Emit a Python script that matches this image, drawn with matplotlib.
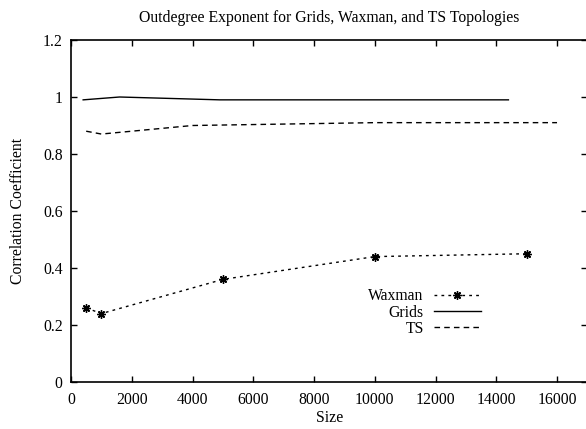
import matplotlib
matplotlib.use("Agg")
import matplotlib.pyplot as plt
from matplotlib.ticker import FuncFormatter, MultipleLocator

plt.rcParams['font.family'] = ['Liberation Serif', 'DejaVu Serif']

title = "Outdegree Exponent for Grids, Waxman, and TS Topologies"
xlabel = "Size"
ylabel = "Correlation Coefficient"

waxman_x = [500, 1000, 5000, 10000, 15000]
waxman_y = [0.26, 0.24, 0.36, 0.44, 0.45]

grids_x = [400, 1600, 4900, 14400]
grids_y = [0.99, 1.00, 0.99, 0.99]

ts_x = [500, 1000, 4000, 10000, 16000]
ts_y = [0.88, 0.87, 0.90, 0.91, 0.91]

FS = 11.3

W, H = 586, 429
fig = plt.figure(figsize=(W / 100, H / 100), dpi=100)
left, right, bottom, top = 71, 587.4, 382, 40
ax = fig.add_axes([left / W, 1 - bottom / H, (right - left) / W, (bottom - top) / H])

ax.plot(waxman_x, waxman_y, color='black', lw=1.0, linestyle=(0, (2, 3)),
        marker=(8, 2, 0), markersize=6, markeredgewidth=1.0, label='Waxman')
ax.plot(grids_x, grids_y, color='black', lw=1.0, linestyle='-', label='Grids')
ax.plot(ts_x, ts_y, color='black', lw=1.0, linestyle=(0, (4, 3)), label='TS')

ax.set_xlim(0, 17000)
ax.set_ylim(0, 1.2)
ax.xaxis.set_major_locator(MultipleLocator(2000))
ax.yaxis.set_major_locator(MultipleLocator(0.2))
ax.yaxis.set_major_formatter(FuncFormatter(lambda v, p: '%g' % round(v, 2)))
ax.xaxis.set_major_formatter(FuncFormatter(lambda v, p: '%g' % v))
ax.tick_params(direction='in', length=4.5, width=1.0, top=True, right=True,
               labelsize=FS, colors='black')
ax.tick_params(axis='x', pad=7)
ax.tick_params(axis='y', pad=6)
for s in ax.spines.values():
    s.set_linewidth(1.2)

ax.set_xlabel(xlabel, fontsize=FS, labelpad=1.5)
ax.set_ylabel(ylabel, fontsize=FS, labelpad=12)
ax.set_title(title, fontsize=FS, pad=13)

leg = ax.legend(loc='center right', bbox_to_anchor=(0.794, 0.203), frameon=False,
                markerfirst=False, fontsize=FS, handlelength=3.0, handletextpad=0.65,
                labelspacing=0.01, borderpad=0, borderaxespad=0)

fig.savefig('out.png', dpi=100)
